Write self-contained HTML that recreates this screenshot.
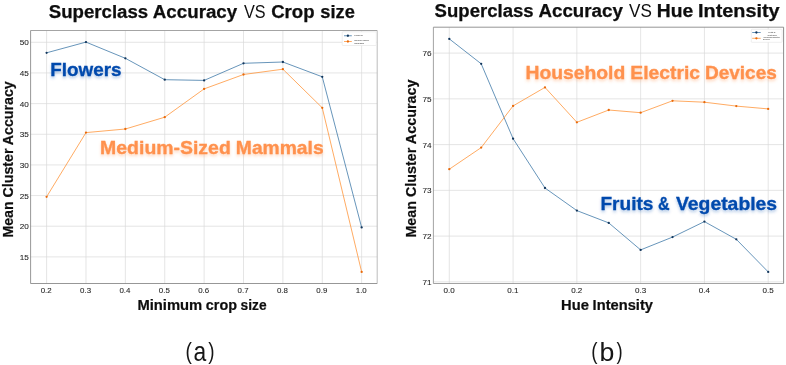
<!DOCTYPE html>
<html lang="en"><head><meta charset="utf-8"><title>Superclass Accuracy charts</title>
<style>
html,body{margin:0;padding:0;background:#fff;}
body{width:786px;height:365px;overflow:hidden;}
svg{display:block;font-family:"Liberation Sans", sans-serif;}
.ttl{font-size:18px;fill:#0c0c0c;}
.ttl.b{stroke:#0c0c0c;stroke-width:.25px;}
.b{font-weight:700;}
.tick{font-size:7.9px;fill:#262626;stroke:#262626;stroke-width:.08px;}
.axl{font-size:13.8px;font-weight:700;fill:#0e0e0e;stroke:#0e0e0e;stroke-width:.2px;}
.ayl{font-size:14.5px;font-weight:700;fill:#0e0e0e;stroke:#0e0e0e;stroke-width:.2px;}
.cap{font-size:22px;fill:#141414;}
.grid{stroke:#dadada;stroke-width:.7;fill:none;}
.frame{stroke:#8c8c8c;stroke-width:.8;fill:none;}
.lb{stroke:#2b6b9f;stroke-width:.72;fill:none;stroke-linejoin:round;}
.lo{stroke:#ff8a26;stroke-width:.72;fill:none;stroke-linejoin:round;}
.mb{fill:#12365c;}
.mo{fill:#e8690a;}
.big{font-size:18px;font-weight:700;stroke-width:.3px;}
.big.blue{stroke:#004aad;}
.big.org{stroke:#ff914d;}
.blue{fill:#004aad;}
.org{fill:#ff914d;}
.lg{font-size:2.4px;fill:#2a2a2a;}
</style></head><body>
<svg width="786" height="365" viewBox="0 0 786 365">
<defs>
<filter id="gb" x="-10%" y="-30%" width="120%" height="170%"><feGaussianBlur in="SourceAlpha" stdDeviation="1.4" result="bl"/><feOffset in="bl" dx="0" dy="1.6" result="of"/><feFlood flood-color="#004aad" flood-opacity=".30"/><feComposite in2="of" operator="in" result="sh"/><feMerge><feMergeNode in="sh"/><feMergeNode in="SourceGraphic"/></feMerge></filter>
<filter id="go" x="-10%" y="-30%" width="120%" height="170%"><feGaussianBlur in="SourceAlpha" stdDeviation="1.4" result="bl"/><feOffset in="bl" dx="0" dy="1.6" result="of"/><feFlood flood-color="#ff914d" flood-opacity=".36"/><feComposite in2="of" operator="in" result="sh"/><feMerge><feMergeNode in="sh"/><feMergeNode in="SourceGraphic"/></feMerge></filter>
<filter id="soft" filterUnits="userSpaceOnUse" x="0" y="0" width="786" height="365"><feGaussianBlur stdDeviation=".3"/></filter>
</defs>
<rect width="786" height="365" fill="#fff"/>
<g class="grid">
<line x1="46.6" y1="30.5" x2="46.6" y2="283.5"/>
<line x1="85.98" y1="30.5" x2="85.98" y2="283.5"/>
<line x1="125.36" y1="30.5" x2="125.36" y2="283.5"/>
<line x1="164.74" y1="30.5" x2="164.74" y2="283.5"/>
<line x1="204.12" y1="30.5" x2="204.12" y2="283.5"/>
<line x1="243.5" y1="30.5" x2="243.5" y2="283.5"/>
<line x1="282.88" y1="30.5" x2="282.88" y2="283.5"/>
<line x1="322.26" y1="30.5" x2="322.26" y2="283.5"/>
<line x1="361.64" y1="30.5" x2="361.64" y2="283.5"/>
<line x1="30.6" y1="256.88" x2="377.2" y2="256.88"/>
<line x1="30.6" y1="226.23" x2="377.2" y2="226.23"/>
<line x1="30.6" y1="195.57" x2="377.2" y2="195.57"/>
<line x1="30.6" y1="164.92" x2="377.2" y2="164.92"/>
<line x1="30.6" y1="134.26" x2="377.2" y2="134.26"/>
<line x1="30.6" y1="103.61" x2="377.2" y2="103.61"/>
<line x1="30.6" y1="72.95" x2="377.2" y2="72.95"/>
<line x1="30.6" y1="42.3" x2="377.2" y2="42.3"/>
</g>
<polyline class="lb" points="46.6,52.8 85.98,42.1 125.36,58.3 164.74,79.7 204.12,80.4 243.5,63.3 282.88,62 322.26,76.8 361.64,227.46"/>
<g class="mb"><circle cx="46.6" cy="52.8" r="1.15"/><circle cx="85.98" cy="42.1" r="1.15"/><circle cx="125.36" cy="58.3" r="1.15"/><circle cx="164.74" cy="79.7" r="1.15"/><circle cx="204.12" cy="80.4" r="1.15"/><circle cx="243.5" cy="63.3" r="1.15"/><circle cx="282.88" cy="62" r="1.15"/><circle cx="322.26" cy="76.8" r="1.15"/><circle cx="361.64" cy="227.46" r="1.15"/></g>
<polyline class="lo" points="46.6,196.8 85.98,132.6 125.36,129 164.74,117.2 204.12,88.9 243.5,74.5 282.88,69.2 322.26,107.8 361.64,271.9"/>
<g class="mo"><circle cx="46.6" cy="196.8" r="1.15"/><circle cx="85.98" cy="132.6" r="1.15"/><circle cx="125.36" cy="129" r="1.15"/><circle cx="164.74" cy="117.2" r="1.15"/><circle cx="204.12" cy="88.9" r="1.15"/><circle cx="243.5" cy="74.5" r="1.15"/><circle cx="282.88" cy="69.2" r="1.15"/><circle cx="322.26" cy="107.8" r="1.15"/><circle cx="361.64" cy="271.9" r="1.15"/></g>
<path d="M377.2 30.5V283.5" stroke="#b6b6b6" stroke-width=".9" fill="none"/>
<path d="M30.6 30.5H377.2" stroke="#9a9a9a" stroke-width=".9" fill="none"/>
<path d="M30.6 30.5V283.5H377.2" stroke="#7c7c7c" stroke-width=".8" fill="none"/>
<rect x="342.2" y="31.8" width="34.1" height="13.7" fill="#fff" stroke="#e3e3e3" stroke-width=".6" rx=".8"/>
<line class="lb" x1="344" y1="35.75" x2="351.8" y2="35.75"/><circle class="mb" cx="347.9" cy="35.75" r="1.15"/>
<line class="lo" x1="344" y1="41.5" x2="351.8" y2="41.5"/><circle class="mo" cx="347.9" cy="41.5" r="1.15"/>
<g class="grid">
<line x1="449.3" y1="27.2" x2="449.3" y2="283.5"/>
<line x1="513.08" y1="27.2" x2="513.08" y2="283.5"/>
<line x1="576.86" y1="27.2" x2="576.86" y2="283.5"/>
<line x1="640.64" y1="27.2" x2="640.64" y2="283.5"/>
<line x1="704.42" y1="27.2" x2="704.42" y2="283.5"/>
<line x1="768.2" y1="27.2" x2="768.2" y2="283.5"/>
<line x1="433.4" y1="281.85" x2="783.6" y2="281.85"/>
<line x1="433.4" y1="236.1" x2="783.6" y2="236.1"/>
<line x1="433.4" y1="190.35" x2="783.6" y2="190.35"/>
<line x1="433.4" y1="144.6" x2="783.6" y2="144.6"/>
<line x1="433.4" y1="98.85" x2="783.6" y2="98.85"/>
<line x1="433.4" y1="53.1" x2="783.6" y2="53.1"/>
</g>
<polyline class="lb" points="449.3,38.9 481.19,63.8 513.08,138.7 544.97,188 576.86,210.6 608.75,222.9 640.64,249.9 672.53,237.1 704.42,221.6 736.31,239.3 768.2,271.9"/>
<g class="mb"><circle cx="449.3" cy="38.9" r="1.15"/><circle cx="481.19" cy="63.8" r="1.15"/><circle cx="513.08" cy="138.7" r="1.15"/><circle cx="544.97" cy="188" r="1.15"/><circle cx="576.86" cy="210.6" r="1.15"/><circle cx="608.75" cy="222.9" r="1.15"/><circle cx="640.64" cy="249.9" r="1.15"/><circle cx="672.53" cy="237.1" r="1.15"/><circle cx="704.42" cy="221.6" r="1.15"/><circle cx="736.31" cy="239.3" r="1.15"/><circle cx="768.2" cy="271.9" r="1.15"/></g>
<polyline class="lo" points="449.3,169.2 481.19,147.6 513.08,105.9 544.97,87.4 576.86,122.3 608.75,110 640.64,112.7 672.53,100.8 704.42,102.2 736.31,106.1 768.2,108.9"/>
<g class="mo"><circle cx="449.3" cy="169.2" r="1.15"/><circle cx="481.19" cy="147.6" r="1.15"/><circle cx="513.08" cy="105.9" r="1.15"/><circle cx="544.97" cy="87.4" r="1.15"/><circle cx="576.86" cy="122.3" r="1.15"/><circle cx="608.75" cy="110" r="1.15"/><circle cx="640.64" cy="112.7" r="1.15"/><circle cx="672.53" cy="100.8" r="1.15"/><circle cx="704.42" cy="102.2" r="1.15"/><circle cx="736.31" cy="106.1" r="1.15"/><circle cx="768.2" cy="108.9" r="1.15"/></g>
<path d="M783.6 27.2V283.5" stroke="#808080" stroke-width=".9" fill="none"/>
<path d="M433.4 27.2H783.6" stroke="#8a8a8a" stroke-width=".9" fill="none"/>
<path d="M433.4 27.2V283.5H783.6" stroke="#8c8c8c" stroke-width=".8" fill="none"/>
<rect x="751.3" y="29.3" width="30.8" height="13" fill="#fff" stroke="#e3e3e3" stroke-width=".6" rx=".8"/>
<line class="lb" x1="752.2" y1="32.5" x2="760.7" y2="32.5"/><circle class="mb" cx="756.4" cy="32.5" r="1.15"/>
<line class="lo" x1="752.2" y1="38.3" x2="760.7" y2="38.3"/><circle class="mo" cx="756.4" cy="38.3" r="1.15"/>
<text filter="url(#gb)"><tspan x="50.27" y="75.7" class="big blue" style="font-size:18px" textLength="71.31" lengthAdjust="spacingAndGlyphs">Flowers</tspan></text>
<text filter="url(#go)"><tspan x="100.13" y="154" class="big org" style="font-size:18.2px" textLength="130.65" lengthAdjust="spacingAndGlyphs">Medium-Sized</tspan> <tspan x="235.84" y="154" class="big org" style="font-size:18.2px" textLength="87.85" lengthAdjust="spacingAndGlyphs">Mammals</tspan></text>
<text filter="url(#go)"><tspan x="525.44" y="79.3" class="big org" style="font-size:18.2px" textLength="99.84" lengthAdjust="spacingAndGlyphs">Household</tspan> <tspan x="630.34" y="79.3" class="big org" style="font-size:18.2px" textLength="69.76" lengthAdjust="spacingAndGlyphs">Electric</tspan> <tspan x="704.96" y="79.3" class="big org" style="font-size:18.2px" textLength="71.83" lengthAdjust="spacingAndGlyphs">Devices</tspan></text>
<text filter="url(#gb)"><tspan x="600.46" y="209.6" class="big blue" style="font-size:18.4px" textLength="52.93" lengthAdjust="spacingAndGlyphs">Fruits</tspan> <tspan x="657.96" y="209.6" class="big blue" style="font-size:18.4px" textLength="11.6" lengthAdjust="spacingAndGlyphs">&amp;</tspan> <tspan x="676" y="209.6" class="big blue" style="font-size:18.4px" textLength="101.1" lengthAdjust="spacingAndGlyphs">Vegetables</tspan></text>
<g filter="url(#soft)">
<text x="354.2" y="36.1" class="lg" textLength="8.5" lengthAdjust="spacingAndGlyphs">Flowers</text>
<text x="354.2" y="41.4" class="lg" textLength="14.7" lengthAdjust="spacingAndGlyphs">Medium-Sized</text>
<text x="354.2" y="44.3" class="lg" textLength="9.7" lengthAdjust="spacingAndGlyphs">Mammals</text>
<text x="19.8" y="259.88" class="tick" textLength="9.1" lengthAdjust="spacingAndGlyphs">15</text>
<text x="19.8" y="229.23" class="tick" textLength="9.1" lengthAdjust="spacingAndGlyphs">20</text>
<text x="19.8" y="198.57" class="tick" textLength="9.1" lengthAdjust="spacingAndGlyphs">25</text>
<text x="19.8" y="167.92" class="tick" textLength="9.1" lengthAdjust="spacingAndGlyphs">30</text>
<text x="19.8" y="137.26" class="tick" textLength="9.1" lengthAdjust="spacingAndGlyphs">35</text>
<text x="19.8" y="106.61" class="tick" textLength="9.1" lengthAdjust="spacingAndGlyphs">40</text>
<text x="19.8" y="75.95" class="tick" textLength="9.1" lengthAdjust="spacingAndGlyphs">45</text>
<text x="19.8" y="45.3" class="tick" textLength="9.1" lengthAdjust="spacingAndGlyphs">50</text>
<text x="40.7" y="292.8" class="tick" textLength="11" lengthAdjust="spacingAndGlyphs">0.2</text>
<text x="80.08" y="292.8" class="tick" textLength="11" lengthAdjust="spacingAndGlyphs">0.3</text>
<text x="119.46" y="292.8" class="tick" textLength="11" lengthAdjust="spacingAndGlyphs">0.4</text>
<text x="158.84" y="292.8" class="tick" textLength="11" lengthAdjust="spacingAndGlyphs">0.5</text>
<text x="198.22" y="292.8" class="tick" textLength="11" lengthAdjust="spacingAndGlyphs">0.6</text>
<text x="237.6" y="292.8" class="tick" textLength="11" lengthAdjust="spacingAndGlyphs">0.7</text>
<text x="276.98" y="292.8" class="tick" textLength="11" lengthAdjust="spacingAndGlyphs">0.8</text>
<text x="316.36" y="292.8" class="tick" textLength="11" lengthAdjust="spacingAndGlyphs">0.9</text>
<text x="355.74" y="292.8" class="tick" textLength="11" lengthAdjust="spacingAndGlyphs">1.0</text>
<text transform="translate(12.8,237.6) rotate(-90)" class="ayl" textLength="156.3" lengthAdjust="spacingAndGlyphs">Mean Cluster Accuracy</text>
<text x="768.2" y="33" class="lg" textLength="7.2" lengthAdjust="spacingAndGlyphs">Fruits &amp;</text>
<text x="767.2" y="35.5" class="lg" textLength="9.6" lengthAdjust="spacingAndGlyphs">Vegetables</text>
<text x="763" y="37.8" class="lg" textLength="16.8" lengthAdjust="spacingAndGlyphs">Household Electric</text>
<text x="763" y="40.1" class="lg" textLength="6.8" lengthAdjust="spacingAndGlyphs">Devices</text>
<text x="422.5" y="284.85" class="tick" textLength="9.1" lengthAdjust="spacingAndGlyphs">71</text>
<text x="422.5" y="239.1" class="tick" textLength="9.1" lengthAdjust="spacingAndGlyphs">72</text>
<text x="422.5" y="193.35" class="tick" textLength="9.1" lengthAdjust="spacingAndGlyphs">73</text>
<text x="422.5" y="147.6" class="tick" textLength="9.1" lengthAdjust="spacingAndGlyphs">74</text>
<text x="422.5" y="101.85" class="tick" textLength="9.1" lengthAdjust="spacingAndGlyphs">75</text>
<text x="422.5" y="56.1" class="tick" textLength="9.1" lengthAdjust="spacingAndGlyphs">76</text>
<text x="443.6" y="292.9" class="tick" textLength="11.2" lengthAdjust="spacingAndGlyphs">0.0</text>
<text x="507.38" y="292.9" class="tick" textLength="11.2" lengthAdjust="spacingAndGlyphs">0.1</text>
<text x="571.16" y="292.9" class="tick" textLength="11.2" lengthAdjust="spacingAndGlyphs">0.2</text>
<text x="634.94" y="292.9" class="tick" textLength="11.2" lengthAdjust="spacingAndGlyphs">0.3</text>
<text x="698.72" y="292.9" class="tick" textLength="11.2" lengthAdjust="spacingAndGlyphs">0.4</text>
<text x="762.5" y="292.9" class="tick" textLength="11.2" lengthAdjust="spacingAndGlyphs">0.5</text>
<text transform="translate(415.6,237.6) rotate(-90)" class="ayl" textLength="158" lengthAdjust="spacingAndGlyphs">Mean Cluster Accuracy</text>
<text><tspan x="48.73" y="17.7" class="ttl b" style="font-size:18px" textLength="99.45" lengthAdjust="spacingAndGlyphs">Superclass</tspan> <tspan x="152.83" y="17.7" class="ttl b" style="font-size:18px" textLength="84.4" lengthAdjust="spacingAndGlyphs">Accuracy</tspan> <tspan x="243.9" y="17.7" class="ttl" style="font-size:18px" textLength="21.6" lengthAdjust="spacingAndGlyphs">VS</tspan> <tspan x="271.16" y="17.7" class="ttl b" style="font-size:18px" textLength="43.4" lengthAdjust="spacingAndGlyphs">Crop</tspan> <tspan x="320.35" y="17.7" class="ttl b" style="font-size:18px" textLength="34.42" lengthAdjust="spacingAndGlyphs">size</tspan></text>
<text><tspan x="137.41" y="309.6" class="axl" style="font-size:13.8px" textLength="64.86" lengthAdjust="spacingAndGlyphs">Minimum</tspan> <tspan x="205.87" y="309.6" class="axl" style="font-size:13.8px" textLength="31.12" lengthAdjust="spacingAndGlyphs">crop</tspan> <tspan x="240.59" y="309.6" class="axl" style="font-size:13.8px" textLength="25.97" lengthAdjust="spacingAndGlyphs">size</tspan></text>
<text><tspan x="185.54" y="358.73" class="cap" style="font-size:23.19px" textLength="6.41" lengthAdjust="spacingAndGlyphs">(</tspan><tspan x="193.38" y="361.23" class="cap" style="font-size:27.09px" textLength="12.73" lengthAdjust="spacingAndGlyphs">a</tspan><tspan x="208.2" y="358.73" class="cap" style="font-size:23.19px" textLength="6.3" lengthAdjust="spacingAndGlyphs">)</tspan></text>
<text><tspan x="434.63" y="17.3" class="ttl b" style="font-size:18px" textLength="98.94" lengthAdjust="spacingAndGlyphs">Superclass</tspan> <tspan x="538.43" y="17.3" class="ttl b" style="font-size:18px" textLength="84.4" lengthAdjust="spacingAndGlyphs">Accuracy</tspan> <tspan x="629.1" y="17.3" class="ttl" style="font-size:18px" textLength="22.83" lengthAdjust="spacingAndGlyphs">VS</tspan> <tspan x="656.85" y="17.3" class="ttl b" style="font-size:18px" textLength="36.36" lengthAdjust="spacingAndGlyphs">Hue</tspan> <tspan x="698.11" y="17.3" class="ttl b" style="font-size:18px" textLength="81.51" lengthAdjust="spacingAndGlyphs">Intensity</tspan></text>
<text><tspan x="561.11" y="309.6" class="axl" style="font-size:13.8px" textLength="27.87" lengthAdjust="spacingAndGlyphs">Hue</tspan> <tspan x="592.62" y="309.6" class="axl" style="font-size:13.8px" textLength="60.32" lengthAdjust="spacingAndGlyphs">Intensity</tspan></text>
<text><tspan x="591.37" y="358.73" class="cap" style="font-size:23.19px" textLength="6.29" lengthAdjust="spacingAndGlyphs">(</tspan><tspan x="599.4" y="361.25" class="cap" style="font-size:25.27px" textLength="14.87" lengthAdjust="spacingAndGlyphs">b</tspan><tspan x="616.6" y="358.73" class="cap" style="font-size:23.19px" textLength="6.18" lengthAdjust="spacingAndGlyphs">)</tspan></text>
</g>
</svg></body></html>
